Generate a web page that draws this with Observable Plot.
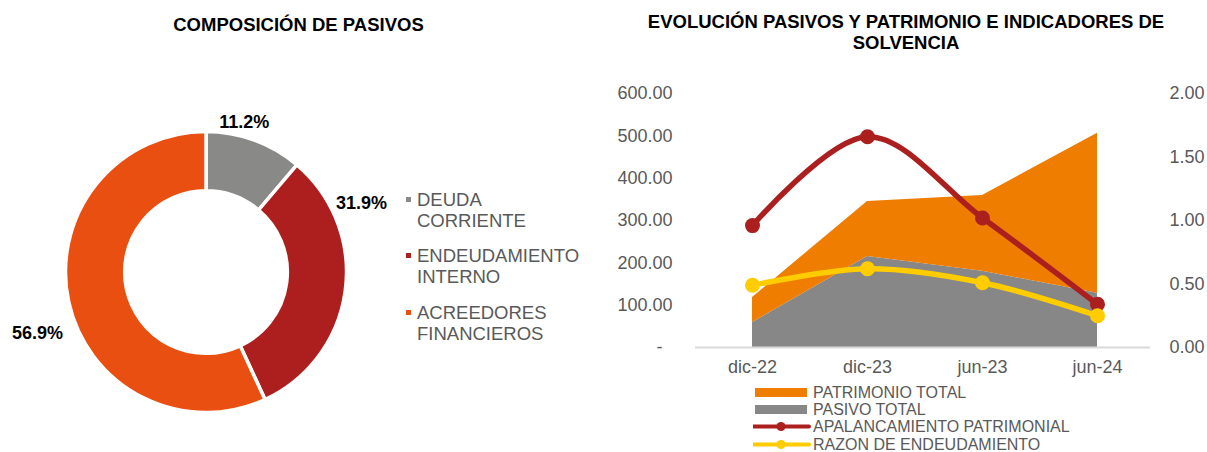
<!DOCTYPE html>
<html>
<head>
<meta charset="utf-8">
<script src="https://cdn.jsdelivr.net/npm/d3@7"></script>
<script src="https://cdn.jsdelivr.net/npm/@observablehq/plot@0.6"></script>
<style>
  html, body { margin: 0; padding: 0; background: #fff; }
  body { width: 1207px; height: 452px; position: relative; overflow: hidden;
         font-family: "Liberation Sans", Arial, sans-serif; }
  .abs { position: absolute; }
  .title { font-weight: bold; font-size: 18.5px; color: #000; text-align: center;
           line-height: 21px; white-space: nowrap; }
  .leg1 { font-size: 18.5px; line-height: 21px; color: #595959; }
  .leg1 .item { position: relative; height: 42px; margin-bottom: 14.5px; }
  .leg1 .sq { position: absolute; left: -11px; top: 8px; width: 5px; height: 5px; }
  .leg2 { font-size: 16px; line-height: 17.2px; color: #595959; }
  .leg2 .row { display: flex; align-items: center; height: 17.2px; white-space: nowrap; }
  .leg2 svg { display: block; flex: none; }
</style>
</head>
<body>
<div id="left" class="abs" style="left:0;top:0;width:600px;height:452px;"></div>
<div id="right" class="abs" style="left:600px;top:0;width:607px;height:452px;overflow:hidden;"></div>
<div class="abs title" style="left:0;top:13.5px;width:597px;">COMPOSICIÓN DE PASIVOS</div>
<div class="abs title" style="left:606px;top:10.5px;width:600px;">EVOLUCIÓN PASIVOS Y PATRIMONIO E INDICADORES DE<br>SOLVENCIA</div>
<div id="legend1" class="abs leg1" style="left:417px;top:188.5px;"></div>
<div id="legend2" class="abs leg2" style="left:753px;top:384px;"></div>
<script>
// ---------------- DATA ----------------
const composicionCategorias = ["DEUDA CORRIENTE", "ENDEUDAMIENTO INTERNO", "ACREEDORES FINANCIEROS"];
const composicionLineas = [["DEUDA", "CORRIENTE"], ["ENDEUDAMIENTO", "INTERNO"], ["ACREEDORES", "FINANCIEROS"]];
const composicionPorcentajes = [11.2, 31.9, 56.9];

const periodos = ["dic-22", "dic-23", "jun-23", "jun-24"];
const pasivoTotal = [59, 215, 180, 128];
const patrimonioTotal = [59, 130, 179, 378];
const apalancamientoPatrimonial = [0.96, 1.66, 1.02, 0.34];
const razonEndeudamiento = [0.49, 0.62, 0.51, 0.25];

const ejeIzqTicks = [0, 100, 200, 300, 400, 500, 600];
const ejeDerTicks = [0, 0.5, 1, 1.5, 2];

// ---------------- STYLE ----------------
const donutColors = ["#898988", "#AD1F1F", "#E94F10"];
const colPatrimonio = "#EE7D00", colPasivo = "#878787", colApal = "#AB1F1F", colRazon = "#FFCC00";
const font = "'Liberation Sans', Arial, sans-serif";

// ---------------- DONUT ----------------
const donutData = composicionCategorias.map((c, i) => ({cat: c, pct: composicionPorcentajes[i], color: donutColors[i]}));
const slices = d3.pie().sort(null).value(d => d.pct).startAngle(0).endAngle(2 * Math.PI)(donutData);
const innerRatio = 0.579;
const labelK = 1.174;
const nudges = [[-19, 5], [-8.5, -91], [-8, 25]];

const donut = Plot.plot({
  width: 600, height: 452,
  marginLeft: 65.5, marginRight: 253.5, marginTop: 131.5, marginBottom: 39.5,
  x: {domain: [-1, 1]}, y: {domain: [-1, 1]},
  axis: null,
  style: {fontFamily: font, background: "transparent", overflow: "visible"},
  marks: [
    (index, scales) => {
      const cx = scales.x(0), cy = scales.y(0), r = scales.x(1) - cx;
      const arc = d3.arc().innerRadius(r * innerRatio).outerRadius(r);
      const g = d3.create("svg:g").attr("transform", `translate(${cx},${cy})`);
      g.selectAll("path").data(slices).join("path")
        .attr("d", arc)
        .attr("fill", d => d.data.color)
        .attr("stroke", "#fff")
        .attr("stroke-width", 3.5);
      return g.node();
    },
    ...slices.map((s, i) => Plot.text([s], {
      x: d => Math.sin((d.startAngle + d.endAngle) / 2) * labelK,
      y: d => Math.cos((d.startAngle + d.endAngle) / 2) * labelK,
      text: d => d.data.pct.toFixed(1) + "%",
      fontWeight: "bold", fontSize: 18, fill: "#000",
      dx: nudges[i][0], dy: nudges[i][1]
    }))
  ]
});
document.getElementById("left").appendChild(donut);

// left legend
const leg1 = d3.select("#legend1");
composicionLineas.forEach((lines, i) => {
  const it = leg1.append("div").attr("class", "item");
  it.append("div").attr("class", "sq").style("background", donutColors[i]);
  lines.forEach(l => it.append("div").text(l));
});

// ---------------- RIGHT CHART ----------------
const tablaArea = periodos.flatMap((p, i) => [
  {periodo: p, serie: "PASIVO TOTAL", valor: pasivoTotal[i]},
  {periodo: p, serie: "PATRIMONIO TOTAL", valor: patrimonioTotal[i]}
]);
const tablaInd = periodos.map((p, i) => ({periodo: p, apal: apalancamientoPatrimonial[i], razon: razonEndeudamiento[i]}));
const k = 600 / 2; // right axis 0–2 mapped onto left axis 0–600

const right = Plot.plot({
  width: 607, height: 452,
  marginLeft: 95, marginRight: 57, marginTop: 93, marginBottom: 105,
  x: {type: "point", domain: periodos, range: [152, 497], padding: 0},
  y: {domain: [0, 600]},
  color: {domain: ["PASIVO TOTAL", "PATRIMONIO TOTAL"], range: [colPasivo, colPatrimonio]},
  style: {fontFamily: font, fontSize: "18px", color: "#595959", background: "transparent"},
  marks: [
    Plot.areaY(tablaArea, {x: "periodo", y: "valor", fill: "serie", z: "serie"}),
    Plot.ruleY([0], {stroke: "#d9d9d9", strokeWidth: 2}),
    Plot.line(tablaInd, {x: "periodo", y: d => d.apal * k, stroke: colApal, strokeWidth: 5.5, curve: "catmull-rom"}),
    Plot.dot(tablaInd, {x: "periodo", y: d => d.apal * k, r: 7.5, fill: colApal}),
    Plot.line(tablaInd, {x: "periodo", y: d => d.razon * k, stroke: colRazon, strokeWidth: 5.5, curve: "catmull-rom"}),
    Plot.dot(tablaInd, {x: "periodo", y: d => d.razon * k, r: 7.5, fill: colRazon}),
    Plot.axisY({ticks: ejeIzqTicks, tickSize: 0, tickPadding: 23, label: null, fontSize: 18,
      tickFormat: d => d === 0 ? "-\u00a0\u00a0" : d3.format(",.2f")(d)}),
    Plot.axisY({anchor: "right", ticks: ejeDerTicks.map(v => v * k), tickSize: 0, tickPadding: 19, label: null, fontSize: 18,
      tickFormat: d => (d / k).toFixed(2)}),
    Plot.axisX({tickSize: 0, tickPadding: 13, label: null, fontSize: 18})
  ]
});
document.getElementById("right").appendChild(right);

// right legend
const leg2 = d3.select("#legend2");
const legItems = [
  {name: "PATRIMONIO TOTAL", type: "rect", color: colPatrimonio},
  {name: "PASIVO TOTAL", type: "rect", color: colPasivo},
  {name: "APALANCAMIENTO PATRIMONIAL", type: "line", color: colApal},
  {name: "RAZON DE ENDEUDAMIENTO", type: "line", color: colRazon}
];
legItems.forEach(it => {
  const row = leg2.append("div").attr("class", "row");
  const svg = row.append("svg").attr("width", 60).attr("height", 17);
  if (it.type === "rect") {
    svg.append("rect").attr("x", 2).attr("y", 4).attr("width", 52).attr("height", 9).attr("fill", it.color);
  } else {
    svg.append("line").attr("x1", 0).attr("x2", 56).attr("y1", 8.5).attr("y2", 8.5)
      .attr("stroke", it.color).attr("stroke-width", 4).attr("stroke-linecap", "round");
    svg.append("circle").attr("cx", 28).attr("cy", 8.5).attr("r", 4.5).attr("fill", it.color);
  }
  row.append("span").text(it.name);
});
</script>
</body>
</html>
